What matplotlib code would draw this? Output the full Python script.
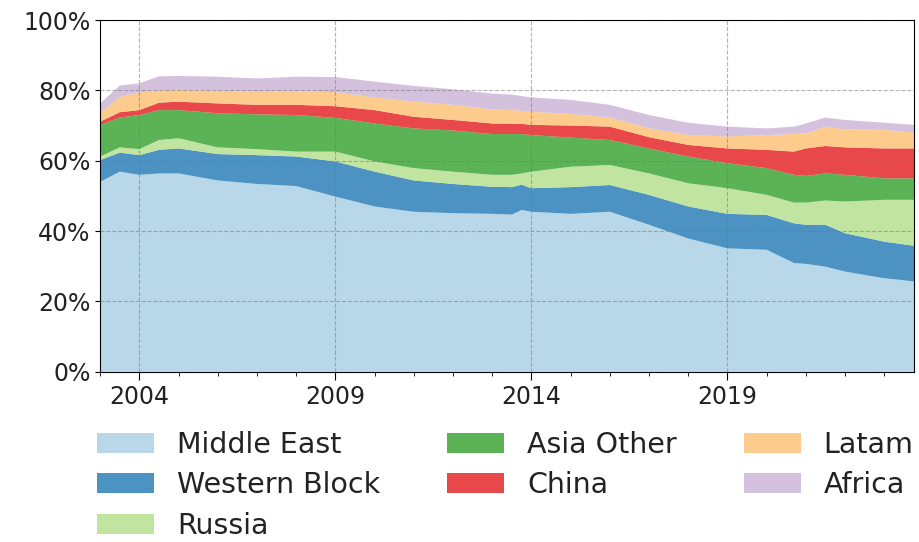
import numpy as np
import matplotlib
matplotlib.use('Agg')
import matplotlib.pyplot as plt
from matplotlib.ticker import PercentFormatter, MultipleLocator

years = [2003.0, 2003.5, 2004.0, 2004.5, 2005.0, 2006.0, 2007.0, 2008.0, 2009.0,
         2010.0, 2011.0, 2012.0, 2013.0, 2013.5, 2013.75, 2014.0, 2015.0, 2016.0,
         2017.0, 2018.0, 2019.0, 2020.0, 2020.7, 2021.0, 2021.5, 2022.0, 2023.0, 2023.77]

middle_east = [54.0, 56.9, 56.0, 56.4, 56.4, 54.4, 53.4, 52.8, 49.8,
               47.0, 45.5, 45.1, 44.9, 44.7, 46.0, 45.5, 44.9, 45.5,
               41.8, 37.9, 35.1, 34.7, 30.9, 30.7, 29.9, 28.5, 26.6, 25.7]
western_block = [6.2, 5.4, 5.6, 6.7, 7.1, 7.5, 8.2, 8.4, 10.0,
                 9.9, 8.9, 8.3, 7.7, 7.8, 7.2, 6.7, 7.6, 7.6,
                 8.5, 9.1, 9.8, 9.9, 11.3, 11.1, 11.9, 10.9, 10.4, 10.1]
russia = [1.0, 1.5, 1.7, 2.8, 2.9, 1.9, 1.7, 1.4, 2.8,
          2.9, 3.5, 3.5, 3.4, 3.5, 3.2, 4.7, 5.8, 5.7,
          6.1, 6.6, 7.3, 5.7, 5.9, 6.3, 6.9, 9.0, 11.9, 13.1]
asia_other = [9.0, 8.5, 9.7, 8.5, 8.0, 9.7, 9.9, 10.4, 9.6,
              10.8, 11.3, 11.7, 11.6, 11.6, 11.2, 10.4, 8.3, 7.1,
              7.1, 7.6, 7.1, 7.6, 7.9, 7.6, 7.7, 7.6, 6.1, 6.1]
china = [0.9, 1.5, 1.4, 2.1, 2.4, 2.8, 2.7, 2.9, 3.3,
         3.8, 3.3, 3.0, 3.0, 2.9, 2.9, 2.9, 3.4, 3.8,
         3.2, 3.3, 4.2, 5.2, 6.6, 7.8, 7.8, 7.8, 8.5, 8.5]
latam = [2.4, 4.3, 5.0, 3.5, 3.3, 3.6, 3.7, 3.9, 4.0,
         3.6, 4.3, 4.3, 4.0, 3.9, 3.7, 3.7, 3.3, 2.6,
         2.5, 2.8, 3.4, 4.2, 5.0, 4.3, 5.5, 5.1, 5.3, 4.5]
africa = [2.8, 3.3, 2.6, 4.0, 4.0, 4.0, 3.8, 4.1, 4.3,
          4.5, 4.5, 4.4, 4.5, 4.4, 4.2, 4.1, 4.0, 3.6,
          3.8, 3.5, 2.8, 1.9, 2.1, 2.8, 2.6, 2.7, 2.0, 2.2]

labels = ['Middle East', 'Western Block', 'Russia', 'Asia Other', 'China', 'Latam', 'Africa']

pal = plt.get_cmap('Paired').colors
colors = [pal[0], pal[1], pal[2], pal[3], pal[5], pal[6], pal[8]]

fig = plt.figure(figsize=(9.19, 5.42), dpi=100)
ax = fig.add_axes([0.109, 0.314, 0.886, 0.649])

ax.stackplot(years, middle_east, western_block, russia, asia_other, china, latam, africa,
             labels=labels, colors=colors, alpha=0.8)

ax.set_xlim(2003.0, 2023.77)
ax.set_ylim(0, 100)
ax.yaxis.set_major_locator(MultipleLocator(20))
ax.yaxis.set_major_formatter(PercentFormatter(decimals=0))
ax.set_xticks([2004, 2009, 2014, 2019])
ax.set_xticklabels(['2004', '2009', '2014', '2019'])
ax.xaxis.set_minor_locator(MultipleLocator(1))
ax.tick_params(axis='both', labelsize=17, labelcolor='#222222')
ax.tick_params(axis='x', which='major', length=6)
ax.tick_params(axis='x', which='minor', length=3)
ax.grid(True, linestyle='--', color='#777777', alpha=0.55, linewidth=0.8)

ax.legend(loc='upper left', bbox_to_anchor=(-0.035, -0.094), ncol=3, frameon=False,
          fontsize=20.5, columnspacing=2.35, handlelength=2.0, labelspacing=0.44,
          labelcolor='#222222')

fig.savefig('out.png', dpi=100)
